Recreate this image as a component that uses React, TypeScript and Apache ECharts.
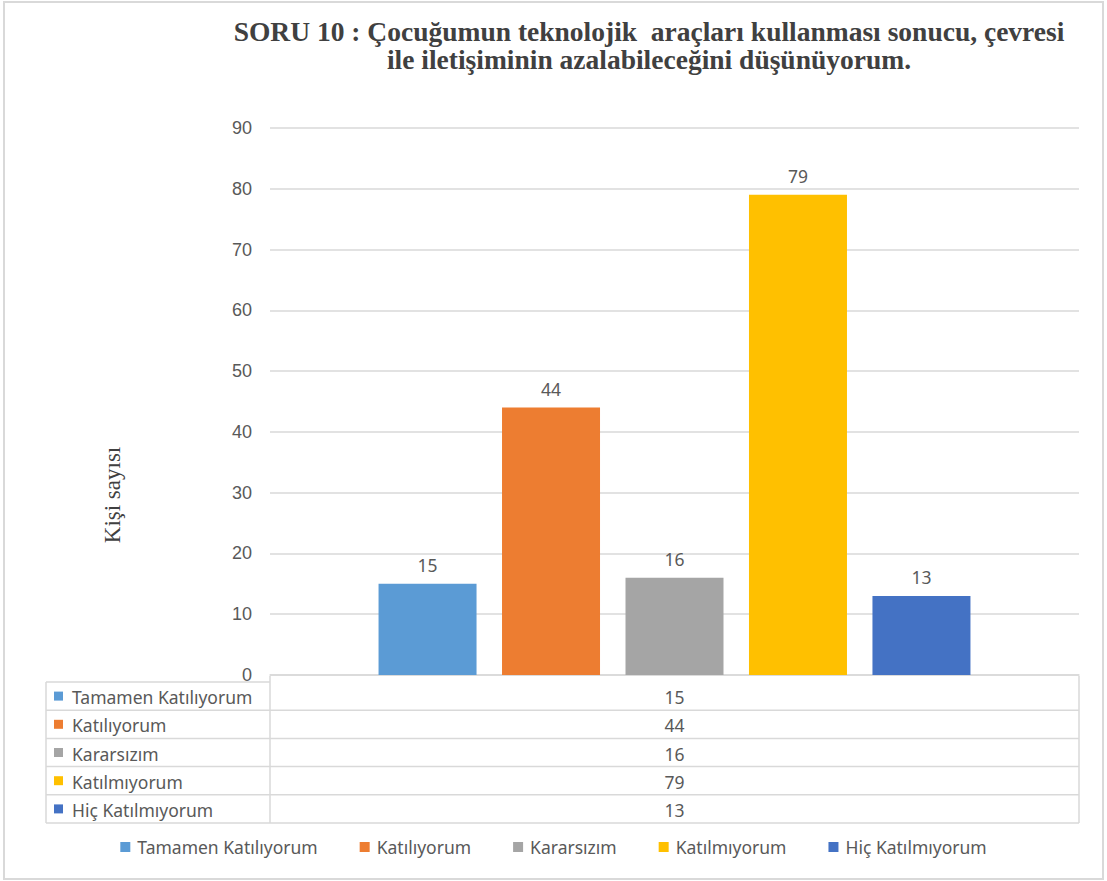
import React, { useEffect, useRef } from "react";
import * as echarts from "echarts";

const titleLines = [
  "SORU 10 : Çocuğumun teknolojik  araçları kullanması sonucu, çevresi",
  "ile iletişiminin azalabileceğini düşünüyorum.",
];
const yAxisTitle = "Kişi sayısı";
const categories = ["Tamamen Katılıyorum", "Katılıyorum", "Kararsızım", "Katılmıyorum", "Hiç Katılmıyorum"];
const values = [15, 44, 16, 79, 13];
const colors = ["#5B9BD5", "#ED7D31", "#A5A5A5", "#FFC000", "#4472C4"];
const yTicks = { min: 0, max: 90, interval: 10 };

const W = 1107;
const H = 881;
const SANS = '"Noto Sans", "Open Sans", sans-serif';
const AXSANS = '"Liberation Sans", "Noto Sans", sans-serif';
const SERIF = '"Liberation Serif", "DejaVu Serif", serif';
const TXT = "#595959";
const LINE = "#D9D9D9";
const FS = 17.5;

export default function App() {
  const ref = useRef<HTMLDivElement>(null);
  useEffect(() => {
    if (!ref.current) return;
    const chart = echarts.init(ref.current, undefined, { renderer: "svg" });

    const gridLeft = 270;
    const gridRight = 1079;
    const tblLeft = 46;
    const tblTopLeft = 682;
    const tblTopRight = 676;
    const tblBottom = 823;
    const rowH = (tblBottom - tblTopLeft) / categories.length;

    const tableEls: any[] = [];
    tableEls.push({ type: "line", shape: { x1: tblLeft, y1: tblTopLeft, x2: gridLeft, y2: tblTopLeft }, style: { stroke: LINE, lineWidth: 1.5 } });
    tableEls.push({ type: "line", shape: { x1: tblLeft, y1: tblTopLeft, x2: tblLeft, y2: tblBottom }, style: { stroke: LINE, lineWidth: 1.5 } });
    tableEls.push({ type: "line", shape: { x1: gridLeft, y1: tblTopRight, x2: gridLeft, y2: tblBottom }, style: { stroke: LINE, lineWidth: 1.5 } });
    tableEls.push({ type: "line", shape: { x1: gridRight, y1: tblTopRight, x2: gridRight, y2: tblBottom }, style: { stroke: LINE, lineWidth: 1.5 } });
    categories.forEach((c, i) => {
      const yb = tblTopLeft + rowH * (i + 1);
      tableEls.push({ type: "line", shape: { x1: tblLeft, y1: yb, x2: gridRight, y2: yb }, style: { stroke: LINE, lineWidth: 1.5 } });
      const yc = tblTopLeft + rowH * (i + 0.5) + 1;
      tableEls.push({ type: "rect", shape: { x: 54, y: yc - 5.5, width: 9, height: 9 }, style: { fill: colors[i] } });
      tableEls.push({ type: "text", x: 72, y: yc, style: { text: c, font: `${FS}px ${SANS}`, fill: TXT, textVerticalAlign: "middle" } });
      tableEls.push({ type: "text", x: (gridLeft + gridRight) / 2, y: yc, style: { text: String(values[i]), font: `${FS}px ${SANS}`, fill: TXT, textAlign: "center", textVerticalAlign: "middle" } });
    });

    chart.setOption({
      animation: false,
      backgroundColor: "#ffffff",
      grid: { left: gridLeft, right: W - gridRight, top: 128, bottom: H - 675, containLabel: false },
      xAxis: {
        type: "category",
        data: [""],
        axisLabel: { show: false },
        axisTick: { show: false },
        axisLine: { show: true, lineStyle: { color: LINE, width: 1.5 } },
      },
      yAxis: {
        type: "value",
        min: yTicks.min,
        max: yTicks.max,
        interval: yTicks.interval,
        axisLine: { show: false },
        axisTick: { show: false },
        axisLabel: { color: TXT, fontSize: 18, fontFamily: AXSANS, margin: 18 },
        splitLine: { lineStyle: { color: LINE, width: 1.5 } },
      },
      legend: {
        bottom: 20,
        left: "center",
        itemWidth: 10,
        itemHeight: 10,
        itemGap: 42,
        icon: "rect",
        textStyle: { color: TXT, fontSize: FS, fontFamily: SANS, padding: [0, 0, 0, 2] },
        data: categories,
      },
      series: categories.map((c, i) => ({
        name: c,
        type: "bar",
        data: [values[i]],
        barWidth: 98,
        barGap: "26%",
        itemStyle: { color: colors[i] },
        label: { show: true, position: "top", distance: 10, color: TXT, fontSize: FS, fontFamily: SANS },
      })),
      graphic: [
        { type: "rect", shape: { x: 4, y: 2, width: 1099, height: 877 }, style: { fill: "none", stroke: "#D9D9D9", lineWidth: 2 }, silent: true },
        {
          type: "text",
          x: 649,
          y: 17,
          style: { text: titleLines.join("\n"), font: `bold 27.5px ${SERIF}`, fill: "#404040", textAlign: "center", lineHeight: 28 },
        },
        {
          type: "text",
          x: 112,
          y: 495,
          rotation: Math.PI / 2,
          style: { text: yAxisTitle, font: `23px ${SERIF}`, fill: "#404040", textAlign: "center", textVerticalAlign: "middle" },
        },
        ...tableEls,
      ],
    });
    return () => chart.dispose();
  }, []);
  return <div ref={ref} style={{ position: "absolute", left: 0, top: 0, width: W, height: H }} />;
}
